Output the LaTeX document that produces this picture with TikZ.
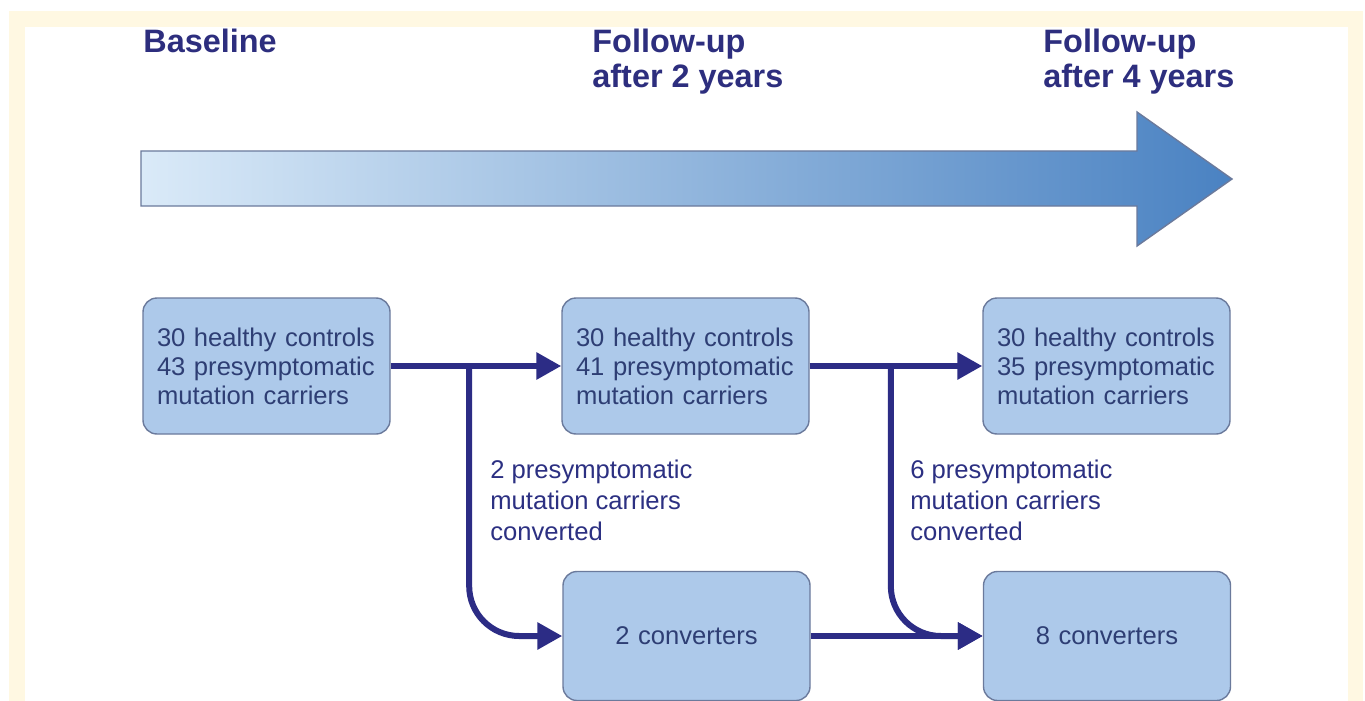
\documentclass[tikz,border=0pt]{standalone}
\usepackage{fontspec}
\setmainfont{Liberation Sans}
\usetikzlibrary{calc,arrows.meta}
\definecolor{cream}{HTML}{FFF8E2}
\definecolor{navy}{HTML}{2C2C85}
\definecolor{boxfill}{HTML}{ADC9EA}
\definecolor{boxline}{HTML}{6B7A9C}
\definecolor{boxtext}{HTML}{2E3E74}
\definecolor{titletext}{HTML}{2D2E7E}
\definecolor{arrowlight}{HTML}{DAEAF8}
\definecolor{arrowdark}{HTML}{4A82C2}
\begin{document}
\begin{tikzpicture}[x=0.5pt,y=-0.5pt,
    heading/.style={inner sep=0pt,align=left,text=titletext,font=\bfseries\fontsize{16.2}{17.5}\selectfont},
    group/.style={draw=boxline,line width=0.7pt,fill=boxfill,rounded corners=7pt,
      minimum width=123.5pt,minimum height=68pt,text width=109.5pt,inner xsep=7pt,
      align=left,text=boxtext,font=\fontsize{12.8}{14.5}\selectfont},
    convbox/.style={group,minimum height=64.5pt,align=center},
    note/.style={inner sep=0pt,align=left,text=navy!80!boxtext,font=\fontsize{12.8}{15.5}\selectfont},
    flow/.style={draw=navy,line width=3pt,-{Triangle[length=12.5pt,width=13pt]}}]
  \useasboundingbox (0,0) rectangle (1365,701);
  \fill[cream] (9,11) rectangle (1363,701);
  \fill[white] (25,27) rectangle (1348,701);

  \node[heading,anchor=base west] (t0) at (143,53) {Baseline};
  \node[heading,anchor=base west] (t2) at (592,88) {Follow-up\\after 2 years};
  \node[heading,anchor=base west] (t4) at (1043,88) {Follow-up\\after 4 years};

  \draw[draw=boxline,line width=0.7pt,left color=arrowlight,right color=arrowdark]
    (141,151) -- (1137,151) -- (1137,112) -- (1232,179) -- (1137,246) -- (1137,206) -- (141,206) -- cycle;

  \node[group] (b1) at (266.5,366) {30 healthy controls\\43 presymptomatic\\mutation carriers};
  \node[group] (b2) at (685.5,366) {30 healthy controls\\41 presymptomatic\\mutation carriers};
  \node[group] (b3) at (1106.5,366) {30 healthy controls\\35 presymptomatic\\mutation carriers};
  \node[convbox] (c1) at (686.5,636) {2 converters};
  \node[convbox] (c2) at (1107,636) {8 converters};

  \coordinate (j1) at ($(b1.east)!0.46!(b2.west)$);
  \coordinate (j2) at ($(b2.east)!0.47!(b3.west)$);

  \draw[flow] (b1.east) -- (b2.west);
  \draw[flow] (b2.east) -- (b3.west);
  \draw[flow,rounded corners=25pt] (j1) |- (c1.west);
  \draw[flow,rounded corners=25pt] (j2) |- (c2.west);
  \draw[flow] (c1.east) -- (c2.west);

  \node[note,anchor=base west] (n1) at (490,540) {2 presymptomatic\\mutation carriers\\converted};
  \node[note,anchor=base west] (n2) at (910,540) {6 presymptomatic\\mutation carriers\\converted};
\end{tikzpicture}
\end{document}
